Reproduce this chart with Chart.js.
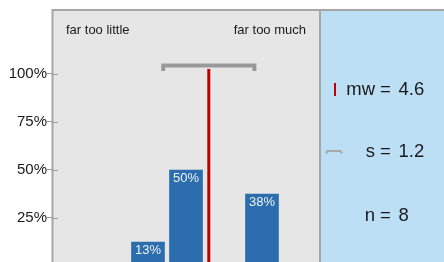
<!DOCTYPE html>
<html>
<head>
    <title>Bewertung</title>
    <script src="https://cdn.jsdelivr.net/npm/chart.js"></script>
    <style>
        html, body { margin: 0; padding: 0; background: #ffffff; overflow: hidden; }
        .chart-container { width: 444px; height: 262px; }
        canvas { display: block; }
    </style>
</head>
<body>
    <div class="chart-container">
        <canvas id="chart" width="444" height="262"></canvas>
    </div>
    <script>
    // Skala 1..7, Anteile in %
    var scalePoints = [1, 2, 3, 4, 5, 6, 7];
    var shares = [null, null, 12.5, 50, null, 37.5, null];
    var yTicks = [25, 50, 75, 100];
    var endLabels = ["far too little", "far too much"];

    // Kennwerte
    var meanValue = 4.6;
    var sdValue = 1.2;
    var statNames = ["mw", "s", "n"];
    var statTexts = ["4.6", "1.2", "8"];

    var barPoints = [];
    scalePoints.forEach(function(p, i) {
        if (shares[i] !== null) barPoints.push({ x: p, y: shares[i] });
    });

    var FONT = "'Liberation Sans', Arial, sans-serif";

    var decoPlugin = {
        id: "deco",
        beforeDraw: function(chart) {
            var ctx = chart.ctx;
            var a = chart.chartArea;
            ctx.save();
            ctx.fillStyle = "#ffffff";
            ctx.fillRect(0, 0, chart.width, chart.height);
            ctx.fillStyle = "#e6e6e6";
            ctx.fillRect(a.left, a.top, a.right - a.left, a.bottom - a.top);
            ctx.fillStyle = "#bddff6";
            ctx.fillRect(a.right, a.top, chart.width - a.right, a.bottom - a.top);
            ctx.restore();
        },
        afterDraw: function(chart) {
            var ctx = chart.ctx;
            var a = chart.chartArea;
            var ys = chart.scales.y;
            ctx.save();

            // Rahmen
            ctx.strokeStyle = "#a6a6a6";
            ctx.lineWidth = 2;
            ctx.beginPath();
            ctx.moveTo(a.left - 0.5, chart.height);
            ctx.lineTo(a.left - 0.5, a.top - 1);
            ctx.lineTo(chart.width, a.top - 1);
            ctx.moveTo(a.right + 1, a.top - 1);
            ctx.lineTo(a.right + 1, chart.height);
            ctx.stroke();

            // Ticks nach innen
            ctx.strokeStyle = "#999999";
            ctx.lineWidth = 1;
            yTicks.forEach(function(v) {
                var y = Math.round(ys.getPixelForValue(v)) + 0.5;
                ctx.beginPath();
                ctx.moveTo(a.left, y);
                ctx.lineTo(a.left + 5, y);
                ctx.stroke();
            });

            // Beschriftungen oben
            ctx.fillStyle = "#1a1a1a";
            ctx.font = "13px " + FONT;
            ctx.textBaseline = "alphabetic";
            ctx.textAlign = "left";
            ctx.fillText(endLabels[0], a.left + 13, 34);
            ctx.textAlign = "right";
            ctx.fillText(endLabels[1], a.right - 13, 34);

            // Werte auf den Balken
            var meta = chart.getDatasetMeta(0);
            ctx.fillStyle = "#eef2f7";
            ctx.font = "13px " + FONT;
            ctx.textAlign = "center";
            ctx.textBaseline = "top";
            meta.data.forEach(function(bar, i) {
                ctx.fillText(Math.round(barPoints[i].y) + "%", bar.x, bar.y + 1.5);
            });

            // Kennwerte rechts
            var baselines = [95, 157, 221];
            ctx.fillStyle = "#1a1a1a";
            ctx.font = "18.5px " + FONT;
            ctx.textBaseline = "alphabetic";
            statNames.forEach(function(name, i) {
                ctx.textAlign = "right";
                ctx.fillText(name, 375, baselines[i]);
                ctx.textAlign = "left";
                ctx.fillText("=", 380, baselines[i]);
                ctx.fillText(statTexts[i], 398.5, baselines[i]);
            });

            // Symbole
            ctx.strokeStyle = "#c00000";
            ctx.lineWidth = 2;
            ctx.beginPath();
            ctx.moveTo(335, 83);
            ctx.lineTo(335, 96);
            ctx.stroke();

            ctx.strokeStyle = "#a8a8a8";
            ctx.lineWidth = 2;
            ctx.beginPath();
            ctx.moveTo(326, 153.5);
            ctx.lineTo(327.5, 151);
            ctx.lineTo(340.5, 151);
            ctx.lineTo(342, 153.5);
            ctx.stroke();

            ctx.restore();
        }
    };

    var chart = new Chart(document.getElementById("chart"), {
        type: "bar",
        data: {
            datasets: [
                {
                    type: "bar",
                    data: barPoints,
                    backgroundColor: "#2b6dad",
                    barThickness: 33,
                    order: 2
                },
                {
                    type: "line",
                    data: [{ x: meanValue, y: 0 }, { x: meanValue, y: 102.6 }],
                    borderColor: "#c00000",
                    borderWidth: 3,
                    pointRadius: 0,
                    borderCapStyle: "butt",
                    order: 1
                },
                {
                    type: "line",
                    data: [
                        { x: meanValue - sdValue, y: 101.5 },
                        { x: meanValue - sdValue, y: 104.4 },
                        { x: meanValue + sdValue, y: 104.4 },
                        { x: meanValue + sdValue, y: 101.5 }
                    ],
                    borderColor: "#999999",
                    borderWidth: 4,
                    pointRadius: 0,
                    borderJoinStyle: "miter",
                    order: 0
                }
            ]
        },
        options: {
            responsive: false,
            animation: false,
            maintainAspectRatio: false,
            devicePixelRatio: 1,
            layout: { padding: { top: 11, right: 125, bottom: 0, left: 0 } },
            plugins: {
                legend: { display: false },
                tooltip: { enabled: false }
            },
            scales: {
                x: {
                    type: "linear",
                    min: 0.5,
                    max: 7.5,
                    offset: false,
                    display: false
                },
                y: {
                    min: 2.08,
                    max: 132.8,
                    afterBuildTicks: function(scale) {
                        scale.ticks = yTicks.map(function(v) { return { value: v }; });
                    },
                    afterFit: function(scale) {
                        scale.width = 53;
                        scale.paddingTop = 0;
                        scale.paddingBottom = 0;
                    },
                    border: { display: false },
                    grid: {
                        drawOnChartArea: false,
                        drawTicks: true,
                        tickLength: 6,
                        color: "#999999"
                    },
                    ticks: {
                        padding: 0,
                        color: "#1a1a1a",
                        font: { size: 15, family: FONT },
                        callback: function(v) { return v + "%"; }
                    }
                }
            }
        },
        plugins: [decoPlugin]
    });
    </script>
</body>
</html>
